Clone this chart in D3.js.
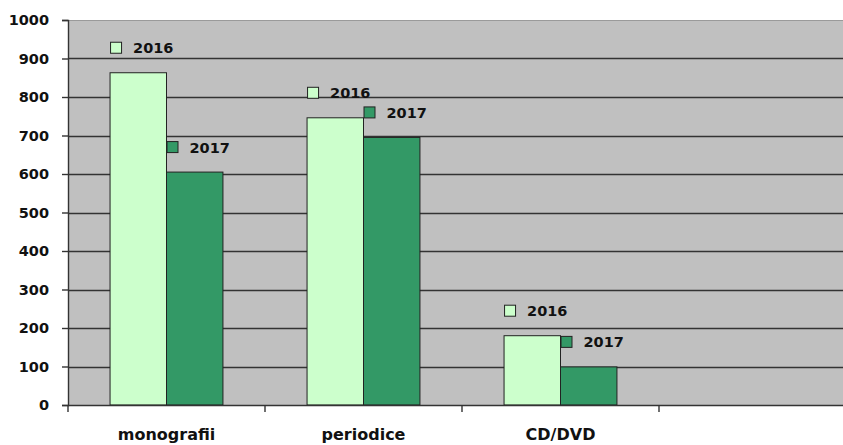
<!DOCTYPE html>
<html>
<head>
<meta charset="utf-8">
<script src="https://cdn.jsdelivr.net/npm/d3@7/dist/d3.min.js"></script>
<style>
  html, body { margin: 0; padding: 0; background: #fff; }
  svg { display: block; }
  text { font-family: "DejaVu Sans", Verdana, sans-serif; font-weight: bold; fill: #111; }
</style>
</head>
<body>
<svg id="chart" width="843" height="445"></svg>
<script>
// Categories and yearly counts
const categories = ["monografii", "periodice", "CD/DVD"];
const years = ["2016", "2017"];
const values2016 = [863, 746, 180];
const values2017 = [605, 695, 99];
const yTicks = [0, 100, 200, 300, 400, 500, 600, 700, 800, 900, 1000];
const colors = ["#CCFFCC", "#339966"];

const series = [values2016, values2017];

const svg = d3.select("#chart");
const margin = { left: 68, top: 20, bottom: 405 };
const plotRight = 856; // plot area runs past the right edge of the page

// Four category slots; the last one stays empty
const slots = [...categories, ""];
const x = d3.scaleBand().domain(d3.range(slots.length)).range([margin.left, plotRight]).paddingInner(0).paddingOuter(0);
const y = d3.scaleLinear().domain([0, 1000]).range([margin.bottom, margin.top]);

// Plot background
svg.append("rect")
  .attr("x", margin.left).attr("y", margin.top)
  .attr("width", plotRight - margin.left).attr("height", margin.bottom - margin.top)
  .attr("fill", "#C0C0C0");

// Top border
svg.append("line")
  .attr("x1", margin.left).attr("x2", plotRight)
  .attr("y1", margin.top + 0.5).attr("y2", margin.top + 0.5)
  .attr("stroke", "#9a9a9a").attr("stroke-width", 1);

// Horizontal gridlines
svg.append("g").selectAll("line")
  .data(yTicks.filter(t => t > 0 && t < 1000))
  .join("line")
  .attr("x1", margin.left).attr("x2", plotRight)
  .attr("y1", d => Math.round(y(d)) + 0.5).attr("y2", d => Math.round(y(d)) + 0.5)
  .attr("stroke", "#333").attr("stroke-width", 1.4);

// Bars
const inner = d3.scaleBand().domain(d3.range(years.length))
  .range([0, x.bandwidth()]).paddingInner(0).paddingOuter(0.745);

const barGroup = svg.append("g");
series.forEach((vals, si) => {
  barGroup.selectAll(null)
    .data(vals)
    .join("rect")
    .attr("x", (d, i) => x(i) + inner(si))
    .attr("y", d => y(d))
    .attr("width", inner.bandwidth())
    .attr("height", d => y(0) - y(d))
    .attr("fill", colors[si])
    .attr("stroke", "#222")
    .attr("stroke-width", 1);
});

// Value labels: a small swatch and the year above each bar
series.forEach((vals, si) => {
  const g = svg.append("g");
  vals.forEach((v, i) => {
    const bx = x(i) + inner(si);
    const cy = y(v) - 25;
    g.append("rect")
      .attr("x", bx + 0.5).attr("y", cy - 5.5)
      .attr("width", 11).attr("height", 11)
      .attr("fill", colors[si]).attr("stroke", "#222").attr("stroke-width", 1);
    g.append("text")
      .attr("x", bx + 23).attr("y", cy + 5.5)
      .attr("font-size", "14.5px")
      .text(years[si]);
  });
});

// Y axis
const yAxis = d3.axisLeft(y).tickValues(yTicks).tickSize(6).tickPadding(13).tickFormat(d3.format("d"));
const yg = svg.append("g").attr("transform", `translate(${margin.left},0)`).call(yAxis);
yg.select(".domain").attr("stroke", "#333").attr("stroke-width", 1.4);
yg.selectAll(".tick line").attr("stroke", "#333").attr("stroke-width", 1.4);
yg.selectAll(".tick text").attr("font-size", "14.5px").attr("font-family", "DejaVu Sans, sans-serif").attr("font-weight", "bold").attr("fill", "#111");

// X axis
const xg = svg.append("g").attr("transform", `translate(0,${margin.bottom})`);
xg.append("line")
  .attr("x1", margin.left).attr("x2", plotRight)
  .attr("y1", 0.5).attr("y2", 0.5)
  .attr("stroke", "#333").attr("stroke-width", 1.4);
xg.selectAll(".xtick")
  .data(d3.range(slots.length + 1))
  .join("line")
  .attr("class", "xtick")
  .attr("x1", i => (i < slots.length ? x(i) : plotRight))
  .attr("x2", i => (i < slots.length ? x(i) : plotRight))
  .attr("y1", 0).attr("y2", 7)
  .attr("stroke", "#333").attr("stroke-width", 1.4);
xg.selectAll(".xlabel")
  .data(categories)
  .join("text")
  .attr("class", "xlabel")
  .attr("x", (d, i) => x(i) + x.bandwidth() / 2)
  .attr("y", 35)
  .attr("text-anchor", "middle")
  .attr("font-size", "16px")
  .text(d => d);
</script>
</body>
</html>
